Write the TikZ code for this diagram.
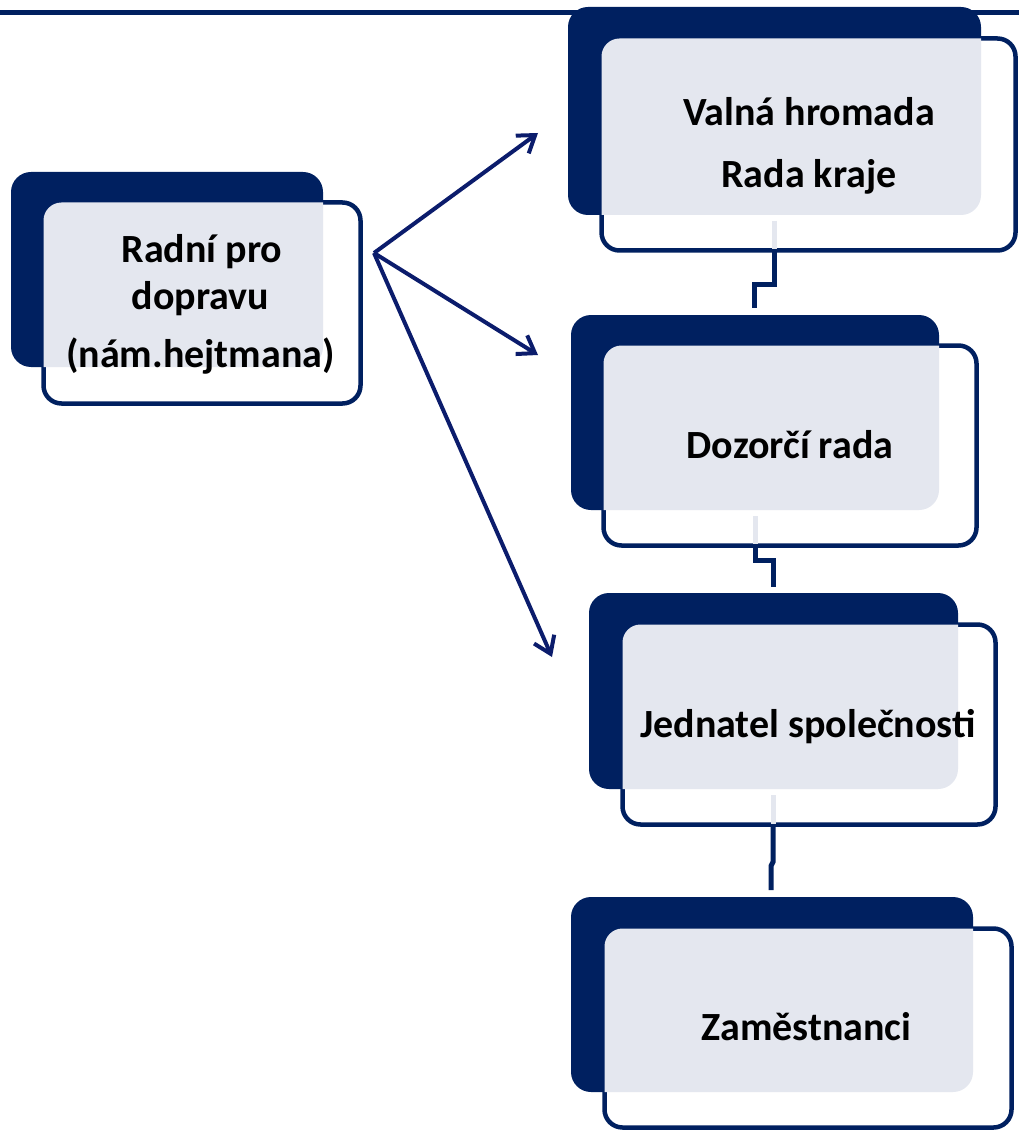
\documentclass[tikz,border=0pt]{standalone}
\usepackage{fontspec}
\setmainfont{Carlito}
\usetikzlibrary{arrows.meta}
\definecolor{navy}{HTML}{002060}
\definecolor{arrowblue}{HTML}{0B1C6C}
\definecolor{paleg}{HTML}{E4E7EF}
\begin{document}
\begin{tikzpicture}[x=1pt,y=-1pt,
  backbox/.style={rectangle, fill=navy, rounded corners=20pt, inner sep=0pt, outer sep=0pt},
  frontbox/.style={rectangle, draw=navy, line width=4.5pt, fill=white, rounded corners=18pt, inner sep=0pt, outer sep=0pt},
  boxtext/.style={font=\bfseries\fontsize{40}{48}\selectfont, text=black, inner sep=0pt, text height=26pt, text depth=0pt},
  link/.style={draw=navy, line width=5pt},
  linkpale/.style={draw=paleg, line width=5pt},
  fan/.style={draw=arrowblue, line width=4pt, -{Straight Barb[length=16pt, width=22pt]}}]
\useasboundingbox (0,0) rectangle (1019,1131);
% top rule
\coordinate (ruleL) at (0,12.5);
\coordinate (ruleR) at (1019,12.5);
\draw[navy, line width=4.5pt] (ruleL) -- (ruleR);

% boxes: back, front, grey overlap
\node[backbox, minimum width=312pt, minimum height=195pt] (k0) at (167,269.5) {};
\node[frontbox, minimum width=317pt, minimum height=201pt] (f0) at (202,303) {};
\node[backbox, minimum width=413pt, minimum height=208pt] (k1) at (774.5,111) {};
\node[frontbox, minimum width=414pt, minimum height=212pt] (f1) at (808.5,144.5) {};
\node[backbox, minimum width=368pt, minimum height=195pt] (k2) at (755,412.5) {};
\node[frontbox, minimum width=373pt, minimum height=200pt] (f2) at (790,445.5) {};
\node[backbox, minimum width=369pt, minimum height=196pt] (k3) at (773.5,691) {};
\node[frontbox, minimum width=373pt, minimum height=200pt] (f3) at (809,724.5) {};
\node[backbox, minimum width=402pt, minimum height=195pt] (k4) at (772,994.5) {};
\node[frontbox, minimum width=407pt, minimum height=199pt] (f4) at (808,1028) {};

\foreach \i in {0,1,2,3,4}{
  \begin{scope}
    \clip[rounded corners=20pt] (k\i.north west) rectangle (k\i.south east);
    \fill[paleg, rounded corners=18pt] (f\i.north west) rectangle (f\i.south east);
  \end{scope}
}

% connectors between the column boxes
\coordinate (c1a) at (774,221);
\coordinate (c1b) at (774,249);
\coordinate (c1c) at (774,285);
\coordinate (c1d) at (754,285);
\coordinate (c1e) at (754,308);
\path[linkpale] (c1a) -- (c1b);
\path[link] (c1b) -- (c1c) -- (c1d) -- (c1e);

\coordinate (c2a) at (755,516);
\coordinate (c2b) at (755,544);
\coordinate (c2c) at (755,560);
\coordinate (c2d) at (773,560);
\coordinate (c2e) at (773,587);
\path[linkpale] (c2a) -- (c2b);
\path[link] (c2b) -- (c2c) -- (c2d) -- (c2e);

\coordinate (c3a) at (773,795);
\coordinate (c3b) at (773,824);
\coordinate (c3c) at (773,862);
\coordinate (c3d) at (771,866);
\coordinate (c3e) at (771,890);
\path[linkpale] (c3a) -- (c3b);
\path[link] (c3b) -- (c3c) -- (c3d) -- (c3e);

% fan of arrows
\coordinate (hub) at (374,253);
\coordinate (tipA) at (538,133);
\coordinate (tipB) at (538,355);
\coordinate (tipC) at (552,657);
\draw[fan] (hub) -- (tipA);
\draw[fan] (hub) -- (tipB);
\draw[fan] (hub) -- (tipC);

% texts
\node[boxtext] (t0a) at (202,250) {Radní pro};
\node[boxtext] (t0b) at (200.5,296) {dopravu};
\node[boxtext] (t0c) at (200.5,354) {(nám.hejtmana)};
\node[boxtext] (t1a) at (809,113) {Valná hromada};
\node[boxtext] (t1b) at (809,175) {Rada kraje};
\node[boxtext] (t2) at (790,445) {Dozorčí rada};
\node[boxtext] (t3) at (808,724.5) {Jednatel společnosti};
\node[boxtext] (t4) at (806.5,1027.5) {Zaměstnanci};
\end{tikzpicture}
\end{document}
